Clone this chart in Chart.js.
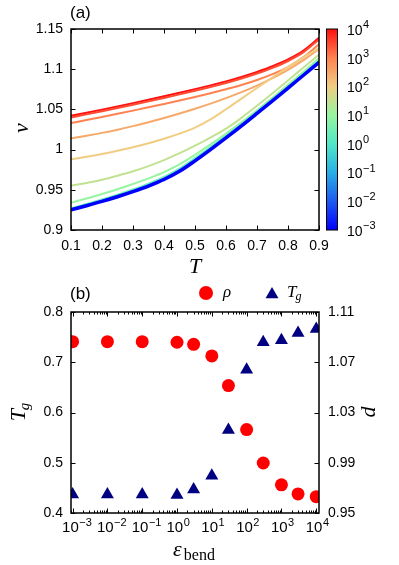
<!DOCTYPE html>
<html><head><meta charset="utf-8">
<script src="https://cdn.jsdelivr.net/npm/chart.js@4.4.1/dist/chart.umd.min.js"></script>
<style>
html,body{margin:0;padding:0;background:#fff;}
#wrap{position:relative;width:399px;height:565px;background:#fff;}
canvas{position:absolute;left:0;}
</style></head><body>
<div id="wrap">
<canvas id="ca" width="399" height="280" style="top:0px"></canvas>
<canvas id="cb" width="399" height="285" style="top:280px"></canvas>
</div>
<script>
// ---------------- DATA ----------------
// panel (a): specific volume v vs temperature T for each bending stiffness
const temperatures = [0.1,0.15,0.2,0.25,0.3,0.35,0.4,0.45,0.5,0.55,0.6,0.65,0.7,0.75,0.8,0.85,0.9];
const curveEps = [1e-3,1e-2,1e-1,1,3,10,30,100,300,1000,3000,10000];
const v_eps_1e_3 = [0.9250,0.9302,0.9356,0.9414,0.9477,0.9547,0.9628,0.9730,0.9860,1.0000,1.0145,1.0295,1.0450,1.0607,1.0765,1.0925,1.1085];
const v_eps_1e_2 = [0.9253,0.9305,0.9359,0.9418,0.9481,0.9551,0.9633,0.9735,0.9865,1.0005,1.0150,1.0300,1.0455,1.0611,1.0769,1.0929,1.1088];
const v_eps_1e_1 = [0.9257,0.9309,0.9364,0.9423,0.9486,0.9557,0.9639,0.9741,0.9871,1.0011,1.0155,1.0305,1.0459,1.0615,1.0773,1.0932,1.1091];
const v_eps_1e0  = [0.9262,0.9314,0.9369,0.9429,0.9493,0.9564,0.9646,0.9749,0.9879,1.0018,1.0162,1.0311,1.0465,1.0620,1.0778,1.0936,1.1095];
const v_eps_3    = [0.9270,0.9323,0.9379,0.9440,0.9505,0.9577,0.9660,0.9764,0.9894,1.0032,1.0175,1.0323,1.0476,1.0630,1.0787,1.0945,1.1104];
const v_eps_10   = [0.9340,0.9392,0.9447,0.9507,0.9572,0.9642,0.9720,0.9815,0.9935,1.0065,1.0200,1.0340,1.0488,1.0645,1.0805,1.0968,1.1135];
const v_eps_30   = [0.9550,0.9585,0.9625,0.9675,0.9730,0.9795,0.9870,0.9955,1.0050,1.0150,1.0260,1.0395,1.0545,1.0700,1.0860,1.1020,1.1180];
const v_eps_100  = [0.9880,0.9910,0.9945,0.9985,1.0030,1.0080,1.0135,1.0198,1.0273,1.0375,1.0502,1.0634,1.0766,1.0898,1.1026,1.1148,1.1262];
const v_eps_300  = [1.0140,1.0172,1.0208,1.0248,1.0292,1.0340,1.0392,1.0448,1.0508,1.0572,1.0640,1.0714,1.0796,1.0888,1.0992,1.1112,1.1252];
const v_eps_1000 = [1.0330,1.0368,1.0406,1.0445,1.0485,1.0526,1.0568,1.0611,1.0655,1.0701,1.0750,1.0804,1.0866,1.0939,1.1027,1.1150,1.1310];
const v_eps_3000 = [1.0400,1.0438,1.0477,1.0517,1.0558,1.0600,1.0643,1.0687,1.0732,1.0779,1.0829,1.0884,1.0946,1.1017,1.1102,1.1212,1.1370];
const v_eps_1e4  = [1.0420,1.0458,1.0497,1.0537,1.0578,1.0620,1.0663,1.0707,1.0752,1.0799,1.0849,1.0904,1.0966,1.1037,1.1122,1.1232,1.1390];
const xTicksA = [0.1,0.2,0.3,0.4,0.5,0.6,0.7,0.8,0.9];
const yTicksA = [0.9,0.95,1.0,1.05,1.1,1.15];
const cbarExponents = [-3,-2,-1,0,1,2,3,4];

// panel (b): density and glass temperature vs bending stiffness
const epsBend  = [1e-3,1e-2,1e-1,1,3,10,30,100,300,1000,3000,10000];
const rhoValues = [1.0864,1.0864,1.0864,1.0859,1.0843,1.0750,1.0514,1.0164,0.9898,0.9724,0.9652,0.9630];
const tgValues  = [0.437,0.437,0.437,0.436,0.447,0.474,0.565,0.685,0.740,0.744,0.758,0.766];
const yTicksTg = [0.4,0.5,0.6,0.7,0.8];
const yTicksD  = [0.95,0.99,1.03,1.07,1.11];
const xExponentsB = [-3,-2,-1,0,1,2,3,4];

// ---------------- STYLE ----------------
const SANS = '"Liberation Sans", Arial, sans-serif';
const SERIF = '"Liberation Serif", "Times New Roman", serif';
const cmapStops = [[0,[0,0,255]],[0.143,[30,90,240]],[0.286,[40,175,230]],[0.429,[80,232,200]],
  [0.571,[150,245,160]],[0.714,[240,205,130]],[0.857,[255,130,80]],[1,[255,15,15]]];
function cmap(p){
  for(let i=1;i<cmapStops.length;i++){
    const [p0,c0]=cmapStops[i-1], [p1,c1]=cmapStops[i];
    if(p<=p1+1e-9){ const f=(p-p0)/(p1-p0); return 'rgb('+c0.map((c,k)=>Math.round(c+(c1[k]-c)*f)).join(',')+')'; }
  }
  return 'rgb(255,15,15)';
}
const epsColor = e => cmap((Math.log10(e)+3)/7);
const curveValues = [v_eps_1e_3,v_eps_1e_2,v_eps_1e_1,v_eps_1e0,v_eps_3,v_eps_10,v_eps_30,v_eps_100,v_eps_300,v_eps_1000,v_eps_3000,v_eps_1e4];

function drawPow(ctx, x, y, exp, baseSize, expSize, raise){
  ctx.font = baseSize+'px '+SANS; ctx.textAlign='left'; ctx.textBaseline='middle'; ctx.fillStyle='#000';
  ctx.fillText('10', x, y);
  const w = ctx.measureText('10').width;
  ctx.font = expSize+'px '+SANS;
  ctx.fillText(exp<0 ? '\u2212'+(-exp) : String(exp), x+w+0.5, y-raise);
}
// parts drawn along a baseline; rotated -90deg when rot is true. x,y = baseline-centre anchor
function drawParts(ctx, parts, x, y, rot){
  ctx.save(); ctx.translate(x,y); if(rot) ctx.rotate(-Math.PI/2);
  ctx.textAlign='left'; ctx.textBaseline='alphabetic'; ctx.fillStyle='#000';
  let W=0; parts.forEach(p=>{ctx.font=p.font; W+=ctx.measureText(p.text).width + (p.gap||0);});
  let cx=-W/2;
  parts.forEach(p=>{ctx.font=p.font; cx+=(p.gap||0); ctx.fillText(p.text,cx,p.dy||0); cx+=ctx.measureText(p.text).width;});
  ctx.restore();
}
const tickFont = {family:SANS,size:14};

// ---------------- CHART (a) ----------------
const datasetsA = curveEps.map((e,i)=>({
  label:'eps '+e,
  data: temperatures.map((t,j)=>({x:t,y:curveValues[i][j]})),
  borderColor: epsColor(e), backgroundColor: epsColor(e),
  borderWidth: i===0 ? 3.5 : 2, pointRadius:0, fill:false,
  cubicInterpolationMode:'monotone', yAxisID:'y'
}));

const plugA = {
  id:'plugA',
  afterDraw(chart){
    const {ctx, chartArea:a, scales} = chart;
    ctx.save();
    ctx.strokeStyle='#000'; ctx.lineWidth=1.5;
    ctx.strokeRect(a.left,a.top,a.right-a.left,a.bottom-a.top);
    ctx.lineWidth=1; ctx.beginPath();
    const L=4.5;
    xTicksA.forEach(v=>{const p=Math.round(scales.x.getPixelForValue(v))+0.5;
      ctx.moveTo(p,a.bottom);ctx.lineTo(p,a.bottom-L);ctx.moveTo(p,a.top);ctx.lineTo(p,a.top+L);});
    yTicksA.forEach(v=>{const p=Math.round(scales.y.getPixelForValue(v))+0.5;
      ctx.moveTo(a.left,p);ctx.lineTo(a.left+L,p);ctx.moveTo(a.right,p);ctx.lineTo(a.right-L,p);});
    ctx.stroke();
    // colour bar
    const cb = scales.cbar;
    const top = cb.getPixelForValue(1e4), bot = cb.getPixelForValue(1e-3);
    const x0 = cb.left+7, w = 11;
    const g = ctx.createLinearGradient(0,bot,0,top);
    cmapStops.forEach(s=>g.addColorStop(s[0],'rgb('+s[1].join(',')+')'));
    ctx.fillStyle=g; ctx.fillRect(x0,top,w,bot-top);
    ctx.strokeStyle='#000'; ctx.lineWidth=1; ctx.strokeRect(x0+0.5,top,w,bot-top);
    cbarExponents.forEach(e=>{ const py = cb.getPixelForValue(Math.pow(10,e));
      drawPow(ctx, x0+21, py+2, e, 14, 11, 6); });
    // titles
    ctx.fillStyle='#000';
    ctx.font='17px '+SANS; ctx.textAlign='left'; ctx.textBaseline='middle';
    ctx.fillText('(a)', 70, 13);
    drawParts(ctx,[{text:'v',font:'italic 22px '+SERIF}], 28, 128, true);
    drawParts(ctx,[{text:'T',font:'italic 22px '+SERIF}], 195, 273, false);
    ctx.restore();
  }
};

new Chart(document.getElementById('ca'),{
  type:'line',
  data:{datasets:datasetsA},
  options:{
    responsive:false, animation:false, devicePixelRatio:1,
    layout:{padding:{top:29,left:0,right:0,bottom:0}},
    plugins:{legend:{display:false},tooltip:{enabled:false}},
    scales:{
      x:{type:'linear',min:0.1,max:0.9,
        afterBuildTicks:s=>{s.ticks=xTicksA.map(v=>({value:v}));},
        ticks:{callback:v=>v.toFixed(1),font:tickFont,color:'#000',padding:8,maxRotation:0,autoSkip:false},
        grid:{display:false,drawTicks:false},border:{display:false},
        afterFit:s=>{s.height=50;}},
      y:{type:'linear',min:0.9,max:1.15,
        afterBuildTicks:s=>{s.ticks=yTicksA.map(v=>({value:v}));},
        ticks:{callback:v=>String(+(+v).toFixed(2)),font:tickFont,color:'#000',padding:8,autoSkip:false},
        grid:{display:false,drawTicks:false},border:{display:false},
        afterFit:s=>{s.width=71;}},
      cbar:{type:'logarithmic',position:'right',min:1e-3,max:1e4,
        ticks:{display:false},grid:{display:false,drawTicks:false},border:{display:false},
        afterFit:s=>{s.width=80;}}
    }
  },
  plugins:[plugA]
});

// ---------------- CHART (b) ----------------
const RED='#ff0000', NAVY='#000080';
const plugB = {
  id:'plugB',
  afterDraw(chart){
    const {ctx, chartArea:a, scales} = chart;
    ctx.save();
    ctx.strokeStyle='#000'; ctx.lineWidth=1.5;
    ctx.strokeRect(a.left,a.top,a.right-a.left,a.bottom-a.top);
    ctx.lineWidth=1; ctx.beginPath();
    const L=4.5, Lm=2.5;
    const xs=scales.x;
    for(let k=-4;k<=4;k++){
      for(let m=1;m<=9;m++){
        const v=m*Math.pow(10,k);
        if(v<xs.min||v>xs.max) continue;
        const p=Math.round(xs.getPixelForValue(v))+0.5, len = m===1?L:Lm;
        ctx.moveTo(p,a.bottom);ctx.lineTo(p,a.bottom-len);ctx.moveTo(p,a.top);ctx.lineTo(p,a.top+len);
      }
    }
    yTicksTg.forEach(v=>{const p=Math.round(scales.y.getPixelForValue(v))+0.5; ctx.moveTo(a.left,p);ctx.lineTo(a.left+L,p);});
    yTicksD.forEach(v=>{const p=Math.round(scales.y1.getPixelForValue(v))+0.5; ctx.moveTo(a.right,p);ctx.lineTo(a.right-L,p);});
    ctx.stroke();
    // x tick labels 10^k
    xExponentsB.forEach(e=>{const p=xs.getPixelForValue(Math.pow(10,e)); drawPow(ctx,p-10.5,a.bottom+15,e,15,11,5);});
    // panel label
    ctx.fillStyle='#000'; ctx.font='17px '+SANS; ctx.textAlign='left'; ctx.textBaseline='middle';
    ctx.fillText('(b)',70,14);
    // legend
    const ds=chart.data.datasets;
    ctx.fillStyle=ds[0].backgroundColor; ctx.beginPath(); ctx.arc(206,13,7,0,Math.PI*2); ctx.fill();
    ctx.fillStyle='#000'; ctx.font='italic 17px '+SERIF; ctx.textBaseline='alphabetic'; ctx.fillText(ds[0].label,223,17);
    const tr=7.5, tx=272, ty=14.5;
    ctx.fillStyle=ds[1].backgroundColor; ctx.beginPath();
    ctx.moveTo(tx,ty-tr); ctx.lineTo(tx+tr*0.866,ty+tr*0.5); ctx.lineTo(tx-tr*0.866,ty+tr*0.5); ctx.closePath(); ctx.fill();
    ctx.fillStyle='#000'; ctx.font='italic 17px '+SERIF; ctx.fillText('T',287,17);
    const tw=ctx.measureText('T').width; ctx.font='italic 12px '+SERIF; ctx.fillText('g',287+tw-1,20);
    // axis titles
    drawParts(ctx,[{text:'T',font:'italic 22px '+SERIF},{text:'g',font:'italic 15px '+SERIF,dy:4,gap:-1}],25,132,true);
    drawParts(ctx,[{text:'\u03b5',font:'italic 22px '+SERIF},{text:'bend',font:'16px '+SERIF,dy:4,gap:2}],194,276,false);
    drawParts(ctx,[{text:'d',font:'italic 22px '+SERIF}],375,132,true);
    ctx.restore();
  }
};

new Chart(document.getElementById('cb'),{
  type:'scatter',
  data:{datasets:[
    {label:'\u03c1',data:epsBend.map((e,i)=>({x:e,y:rhoValues[i]})),yAxisID:'y1',showLine:false,
     pointStyle:'circle',pointRadius:6.5,pointBackgroundColor:RED,backgroundColor:RED,borderColor:RED,pointBorderWidth:0},
    {label:'Tg',data:epsBend.map((e,i)=>({x:e,y:tgValues[i]})),yAxisID:'y',showLine:false,
     pointStyle:'triangle',pointRadius:7.5,pointBackgroundColor:NAVY,backgroundColor:NAVY,borderColor:NAVY,pointBorderWidth:0}
  ]},
  options:{
    responsive:false, animation:false, devicePixelRatio:1,
    layout:{padding:{top:32,left:0,right:0,bottom:0}},
    plugins:{legend:{display:false},tooltip:{enabled:false}},
    scales:{
      x:{type:'logarithmic',min:9e-4,max:1.2e4,
        ticks:{display:false},grid:{display:false,drawTicks:false},border:{display:false},
        afterFit:s=>{s.height=52;}},
      y:{type:'linear',position:'left',min:0.4,max:0.8,
        afterBuildTicks:s=>{s.ticks=yTicksTg.map(v=>({value:v}));},
        ticks:{callback:v=>(+v).toFixed(1),font:tickFont,color:'#000',padding:8,autoSkip:false},
        grid:{display:false,drawTicks:false},border:{display:false},
        afterFit:s=>{s.width=71;}},
      y1:{type:'linear',position:'right',min:0.95,max:1.11,
        afterBuildTicks:s=>{s.ticks=yTicksD.map(v=>({value:v}));},
        ticks:{callback:v=>(+v).toFixed(2),font:tickFont,color:'#000',padding:9,autoSkip:false},
        grid:{display:false,drawTicks:false},border:{display:false},
        afterFit:s=>{s.width=80;}}
    }
  },
  plugins:[plugB]
});
</script>
</body></html>
